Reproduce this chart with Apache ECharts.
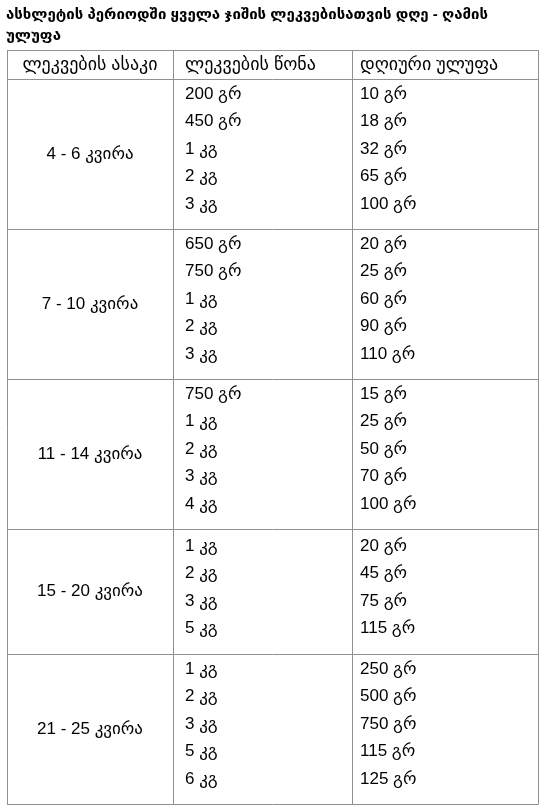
<!DOCTYPE html>
<html><head><meta charset="utf-8">
<script src="https://cdn.jsdelivr.net/npm/echarts@6/dist/echarts.min.js"></script>
<style>html,body{margin:0;padding:0;background:#fff}#c{width:549px;height:808px}</style>
</head><body><div id="c"></div>
<script>
const title = ['ასხლეტის პერიოდში ყველა ჯიშის ლეკვებისათვის დღე - ღამის', 'ულუფა'];
const headers = ['ლეკვების ასაკი', 'ლეკვების წონა', 'დღიური ულუფა'];
const ages = ['4 - 6 კვირა', '7 - 10 კვირა', '11 - 14 კვირა', '15 - 20 კვირა', '21 - 25 კვირა'];
const weights = [
  ['200 გრ', '450 გრ', '1 კგ', '2 კგ', '3 კგ'],
  ['650 გრ', '750 გრ', '1 კგ', '2 კგ', '3 კგ'],
  ['750 გრ', '1 კგ', '2 კგ', '3 კგ', '4 კგ'],
  ['1 კგ', '2 კგ', '3 კგ', '5 კგ'],
  ['1 კგ', '2 კგ', '3 კგ', '5 კგ', '6 კგ']
];
const rations = [
  ['10 გრ', '18 გრ', '32 გრ', '65 გრ', '100 გრ'],
  ['20 გრ', '25 გრ', '60 გრ', '90 გრ', '110 გრ'],
  ['15 გრ', '25 გრ', '50 გრ', '70 გრ', '100 გრ'],
  ['20 გრ', '45 გრ', '75 გრ', '115 გრ'],
  ['250 გრ', '500 გრ', '750 გრ', '115 გრ', '125 გრ']
];

const font = '"Liberation Sans", Arial, "DejaVu Sans", sans-serif';
const L = 7, R = 538, cols = [7, 173, 352, 538];
const headTop = 50, headBot = 79;
const lineC = '#909090';
const els = [];
function line(x1, y1, x2, y2) {
  els.push({type: 'line', shape: {x1, y1, x2, y2}, style: {stroke: lineC, lineWidth: 1}});
}
function text(t, x, y, align, bold, size) {
  els.push({type: 'text', x, y, style: {text: t, fill: '#000', font: (bold ? 'bold ' : '') + (size || 17) + 'px ' + font, align, verticalAlign: 'middle'}});
}
title.forEach((t, i) => text(t, 6, 15 + i * 21, 'left', true, 15));
text(headers[0], (cols[0] + cols[1]) / 2, 65, 'center', false, 18);
text(headers[1], 185, 65, 'left', false, 18);
text(headers[2], 360, 65, 'left', false, 18);
let y = headBot;
const hLines = [headTop, headBot];
ages.forEach((a, g) => {
  const n = weights[g].length;
  const h = 25 * (n + 1);
  const first = y + (n === 5 ? 15 : 17);
  text(a, (cols[0] + cols[1]) / 2, y + h / 2, 'center');
  weights[g].forEach((w, i) => text(w, 185, first + i * 27.6, 'left'));
  rations[g].forEach((r, i) => text(r, 360, first + i * 27.6, 'left'));
  y += h;
  hLines.push(y);
});
hLines.forEach(v => line(L, v + 0.5, R, v + 0.5));
cols.forEach(c => line(c + 0.5, headTop, c + 0.5, y + 0.5));

const chart = echarts.init(document.getElementById('c'));
chart.setOption({animation: false, graphic: {elements: els}});
</script></body></html>
